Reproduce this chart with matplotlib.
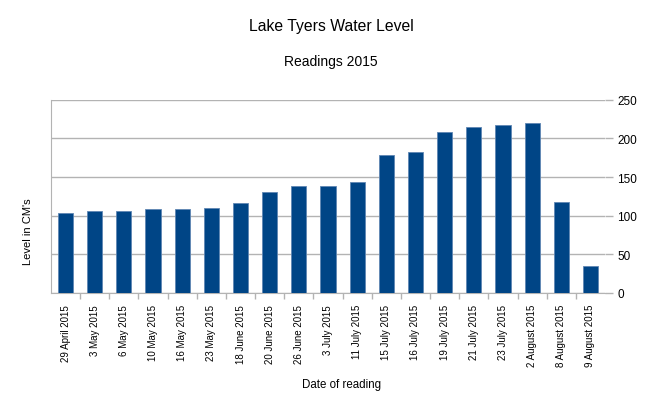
import matplotlib.pyplot as plt

# Данные с графика
dates = ['29 April 2015', '3 May 2015', '6 May 2015', '10 May 2015', '16 May 2015',
         '23 May 2015', '18 June 2015', '20 June 2015', '26 June 2015', '3 July 2015',
         '11 July 2015', '15 July 2015', '16 July 2015', '19 July 2015', '21 July 2015',
         '23 July 2015', '2 August 2015', '8 August 2015', '9 August 2015']
levels = [104, 106, 106, 108, 108, 110, 116, 130, 138, 138,
          144, 178, 182, 208, 215, 217, 220, 118, 35]

plt.rcParams['font.family'] = ['Liberation Sans', 'DejaVu Sans']

fig = plt.figure(figsize=(6.48, 4.02), dpi=100)
ax = fig.add_axes([51 / 648, 1 - 294 / 402, 554 / 648, 193.3 / 402])

x = range(len(dates))
ax.bar(x, levels, width=0.52, color='#004586', edgecolor='#5f86b3', linewidth=0.6, zorder=3)

ax.set_xlim(-0.5, len(dates) - 0.5)
ax.set_ylim(0, 250)
ax.set_yticks(range(0, 251, 50))
ax.yaxis.tick_right()
ax.grid(axis='y', color='#b3b3b3', linewidth=1, zorder=0)

# подписи по оси X
ax.set_xticks(list(x))
ax.set_xticklabels(dates, rotation=90, fontsize=7)
ax.set_xticks([i + 0.5 for i in range(len(dates) - 1)], minor=True)
ax.tick_params(axis='x', which='major', length=0, pad=8)
ax.tick_params(axis='x', which='minor', length=4, color='#b3b3b3', width=1)
ax.tick_params(axis='y', length=6, color='#b3b3b3', width=1, labelsize=8.5, pad=3)

for side in ['left', 'right', 'top', 'bottom']:
    ax.spines[side].set_color('#b3b3b3')
ax.spines['top'].set_visible(False)
ax.spines['right'].set_visible(False)

fig.text(331 / 648, 1 - 27 / 402, 'Lake Tyers Water Level', ha='center', va='center', fontsize=11.3)
fig.text(331 / 648, 1 - 62 / 402, 'Readings 2015', ha='center', va='center', fontsize=10)
fig.text(342 / 648, 1 - 385 / 402, 'Date of reading', ha='center', va='center', fontsize=8.3)
fig.text(28 / 648, 1 - 232 / 402, "Level in CM's", ha='center', va='center', rotation=90, fontsize=8)

fig.savefig('out.png', dpi=100)
